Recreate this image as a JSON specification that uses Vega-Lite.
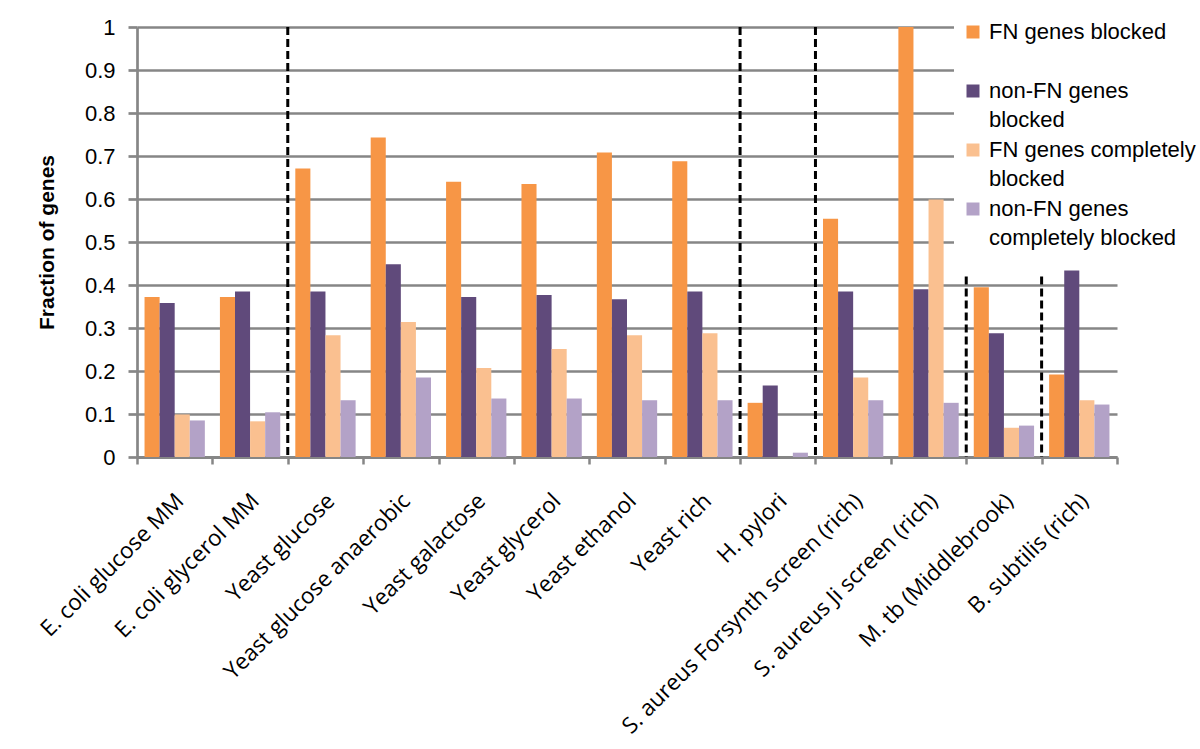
{
  "$schema": "https://vega.github.io/schema/vega-lite/v6.json",
  "width": 980,
  "height": 430,
  "autosize": {"type": "none"},
  "padding": {"left": 137, "top": 27, "right": 83, "bottom": 292},
  "background": "white",
  "config": {"view": {"stroke": null}},
  "datasets": {
    "bars": [
      {"cat": "E. coli glucose MM", "series": "FN genes blocked", "value": 0.372},
      {"cat": "E. coli glucose MM", "series": "non-FN genes blocked", "value": 0.358},
      {"cat": "E. coli glucose MM", "series": "FN genes completely blocked", "value": 0.099},
      {"cat": "E. coli glucose MM", "series": "non-FN genes completely blocked", "value": 0.085},
      {"cat": "E. coli glycerol MM", "series": "FN genes blocked", "value": 0.372},
      {"cat": "E. coli glycerol MM", "series": "non-FN genes blocked", "value": 0.385},
      {"cat": "E. coli glycerol MM", "series": "FN genes completely blocked", "value": 0.083},
      {"cat": "E. coli glycerol MM", "series": "non-FN genes completely blocked", "value": 0.104},
      {"cat": "Yeast glucose", "series": "FN genes blocked", "value": 0.671},
      {"cat": "Yeast glucose", "series": "non-FN genes blocked", "value": 0.385},
      {"cat": "Yeast glucose", "series": "FN genes completely blocked", "value": 0.283},
      {"cat": "Yeast glucose", "series": "non-FN genes completely blocked", "value": 0.132},
      {"cat": "Yeast glucose anaerobic", "series": "FN genes blocked", "value": 0.743},
      {"cat": "Yeast glucose anaerobic", "series": "non-FN genes blocked", "value": 0.448},
      {"cat": "Yeast glucose anaerobic", "series": "FN genes completely blocked", "value": 0.314},
      {"cat": "Yeast glucose anaerobic", "series": "non-FN genes completely blocked", "value": 0.185},
      {"cat": "Yeast galactose", "series": "FN genes blocked", "value": 0.64},
      {"cat": "Yeast galactose", "series": "non-FN genes blocked", "value": 0.372},
      {"cat": "Yeast galactose", "series": "FN genes completely blocked", "value": 0.207},
      {"cat": "Yeast galactose", "series": "non-FN genes completely blocked", "value": 0.136},
      {"cat": "Yeast glycerol", "series": "FN genes blocked", "value": 0.635},
      {"cat": "Yeast glycerol", "series": "non-FN genes blocked", "value": 0.377},
      {"cat": "Yeast glycerol", "series": "FN genes completely blocked", "value": 0.251},
      {"cat": "Yeast glycerol", "series": "non-FN genes completely blocked", "value": 0.136},
      {"cat": "Yeast ethanol", "series": "FN genes blocked", "value": 0.708},
      {"cat": "Yeast ethanol", "series": "non-FN genes blocked", "value": 0.367},
      {"cat": "Yeast ethanol", "series": "FN genes completely blocked", "value": 0.283},
      {"cat": "Yeast ethanol", "series": "non-FN genes completely blocked", "value": 0.132},
      {"cat": "Yeast rich", "series": "FN genes blocked", "value": 0.688},
      {"cat": "Yeast rich", "series": "non-FN genes blocked", "value": 0.385},
      {"cat": "Yeast rich", "series": "FN genes completely blocked", "value": 0.288},
      {"cat": "Yeast rich", "series": "non-FN genes completely blocked", "value": 0.132},
      {"cat": "H. pylori", "series": "FN genes blocked", "value": 0.126},
      {"cat": "H. pylori", "series": "non-FN genes blocked", "value": 0.166},
      {"cat": "H. pylori", "series": "FN genes completely blocked", "value": 0},
      {"cat": "H. pylori", "series": "non-FN genes completely blocked", "value": 0.01},
      {"cat": "S. aureus Forsynth screen (rich)", "series": "FN genes blocked", "value": 0.554},
      {"cat": "S. aureus Forsynth screen (rich)", "series": "non-FN genes blocked", "value": 0.385},
      {"cat": "S. aureus Forsynth screen (rich)", "series": "FN genes completely blocked", "value": 0.185},
      {"cat": "S. aureus Forsynth screen (rich)", "series": "non-FN genes completely blocked", "value": 0.132},
      {"cat": "S. aureus Ji screen (rich)", "series": "FN genes blocked", "value": 1.0},
      {"cat": "S. aureus Ji screen (rich)", "series": "non-FN genes blocked", "value": 0.39},
      {"cat": "S. aureus Ji screen (rich)", "series": "FN genes completely blocked", "value": 0.599},
      {"cat": "S. aureus Ji screen (rich)", "series": "non-FN genes completely blocked", "value": 0.126},
      {"cat": "M. tb (Middlebrook)", "series": "FN genes blocked", "value": 0.395},
      {"cat": "M. tb (Middlebrook)", "series": "non-FN genes blocked", "value": 0.288},
      {"cat": "M. tb (Middlebrook)", "series": "FN genes completely blocked", "value": 0.068},
      {"cat": "M. tb (Middlebrook)", "series": "non-FN genes completely blocked", "value": 0.073},
      {"cat": "B. subtilis (rich)", "series": "FN genes blocked", "value": 0.192},
      {"cat": "B. subtilis (rich)", "series": "non-FN genes blocked", "value": 0.434},
      {"cat": "B. subtilis (rich)", "series": "FN genes completely blocked", "value": 0.132},
      {"cat": "B. subtilis (rich)", "series": "non-FN genes completely blocked", "value": 0.122}
    ],
    "dividers": [
      {"cat": "Yeast glucose", "top": 1},
      {"cat": "H. pylori", "top": 1},
      {"cat": "S. aureus Forsynth screen (rich)", "top": 1},
      {"cat": "M. tb (Middlebrook)", "top": 0.42},
      {"cat": "B. subtilis (rich)", "top": 0.42}
    ]
  },
  "layer": [
    {
      "data": {"name": "bars"},
      "mark": {"type": "bar", "strokeWidth": 0},
      "encoding": {
        "x": {
          "field": "cat",
          "type": "nominal",
          "scale": {
            "domain": ["E. coli glucose MM", "E. coli glycerol MM", "Yeast glucose", "Yeast glucose anaerobic", "Yeast galactose", "Yeast glycerol", "Yeast ethanol", "Yeast rich", "H. pylori", "S. aureus Forsynth screen (rich)", "S. aureus Ji screen (rich)", "M. tb (Middlebrook)", "B. subtilis (rich)"],
            "paddingInner": 0,
            "paddingOuter": 0
          },
          "axis": {
            "title": null,
            "tickBand": "extent",
            "ticks": true,
            "tickSize": 7,
            "tickColor": "#868686",
            "tickWidth": 2.5,
            "domainColor": "#868686",
            "domainWidth": 3,
            "grid": false,
            "labelAngle": -45,
            "labelAlign": "right",
            "labelBaseline": "middle",
            "labelFont": "Open Sans",
            "labelFontSize": 22.5,
            "labelColor": "black",
            "labelPadding": 33,
            "labelOffset": 5,
            "labelLimit": 600
          }
        },
        "xOffset": {
          "field": "series",
          "type": "nominal",
          "scale": {
            "domain": ["FN genes blocked", "non-FN genes blocked", "FN genes completely blocked", "non-FN genes completely blocked"],
            "paddingInner": 0,
            "paddingOuter": 0.5
          }
        },
        "y": {
          "field": "value",
          "type": "quantitative",
          "scale": {"domain": [0, 1], "nice": false},
          "axis": {
            "values": [0, 0.1, 0.2, 0.3, 0.4, 0.5, 0.6, 0.7, 0.8, 0.9, 1],
            "format": ".1~f",
            "grid": true,
            "gridColor": "#868686",
            "gridWidth": 2.7,
            "domainColor": "#868686",
            "domainWidth": 2.7,
            "tickColor": "#868686",
            "tickWidth": 2.7,
            "tickSize": 9,
            "labelPadding": 13,
            "labelFont": "Liberation Sans",
            "labelFontSize": 22,
            "labelColor": "black",
            "title": "Fraction of genes",
            "titleFont": "Liberation Sans",
            "titleFontSize": 21,
            "titleFontWeight": "bold",
            "titleColor": "black",
            "titlePadding": 27
          }
        },
        "color": {
          "field": "series",
          "type": "nominal",
          "scale": {
            "domain": ["FN genes blocked", "non-FN genes blocked", "FN genes completely blocked", "non-FN genes completely blocked"],
            "range": ["#F79646", "#604A7B", "#FAC090", "#B3A2C7"]
          },
          "legend": {
            "title": null,
            "orient": "none",
            "legendX": 817,
            "legendY": -14,
            "padding": 8,
            "fillColor": "white",
            "symbolType": "square",
            "symbolSize": 169,
            "symbolStrokeWidth": 0,
            "labelFont": "Liberation Sans",
            "labelFontSize": 22,
            "labelColor": "black",
            "labelOffset": 5,
            "labelLimit": 400,
            "rowPadding": 8,
            "labelExpr": "datum.label == 'non-FN genes blocked' ? ['non-FN genes', 'blocked'] : datum.label == 'FN genes completely blocked' ? ['FN genes completely', 'blocked'] : datum.label == 'non-FN genes completely blocked' ? ['non-FN genes', 'completely blocked'] : [datum.label, '']",
            "encode": {"labels": {"update": {"lineHeight": {"value": 29}}}}
          }
        }
      }
    },
    {
      "data": {"name": "dividers"},
      "mark": {"type": "rule", "color": "black", "strokeWidth": 3, "strokeDash": [8, 4]},
      "encoding": {
        "x": {"field": "cat", "type": "nominal", "bandPosition": 0},
        "y": {"field": "top", "type": "quantitative"},
        "y2": {"datum": 0}
      }
    }
  ]
}
